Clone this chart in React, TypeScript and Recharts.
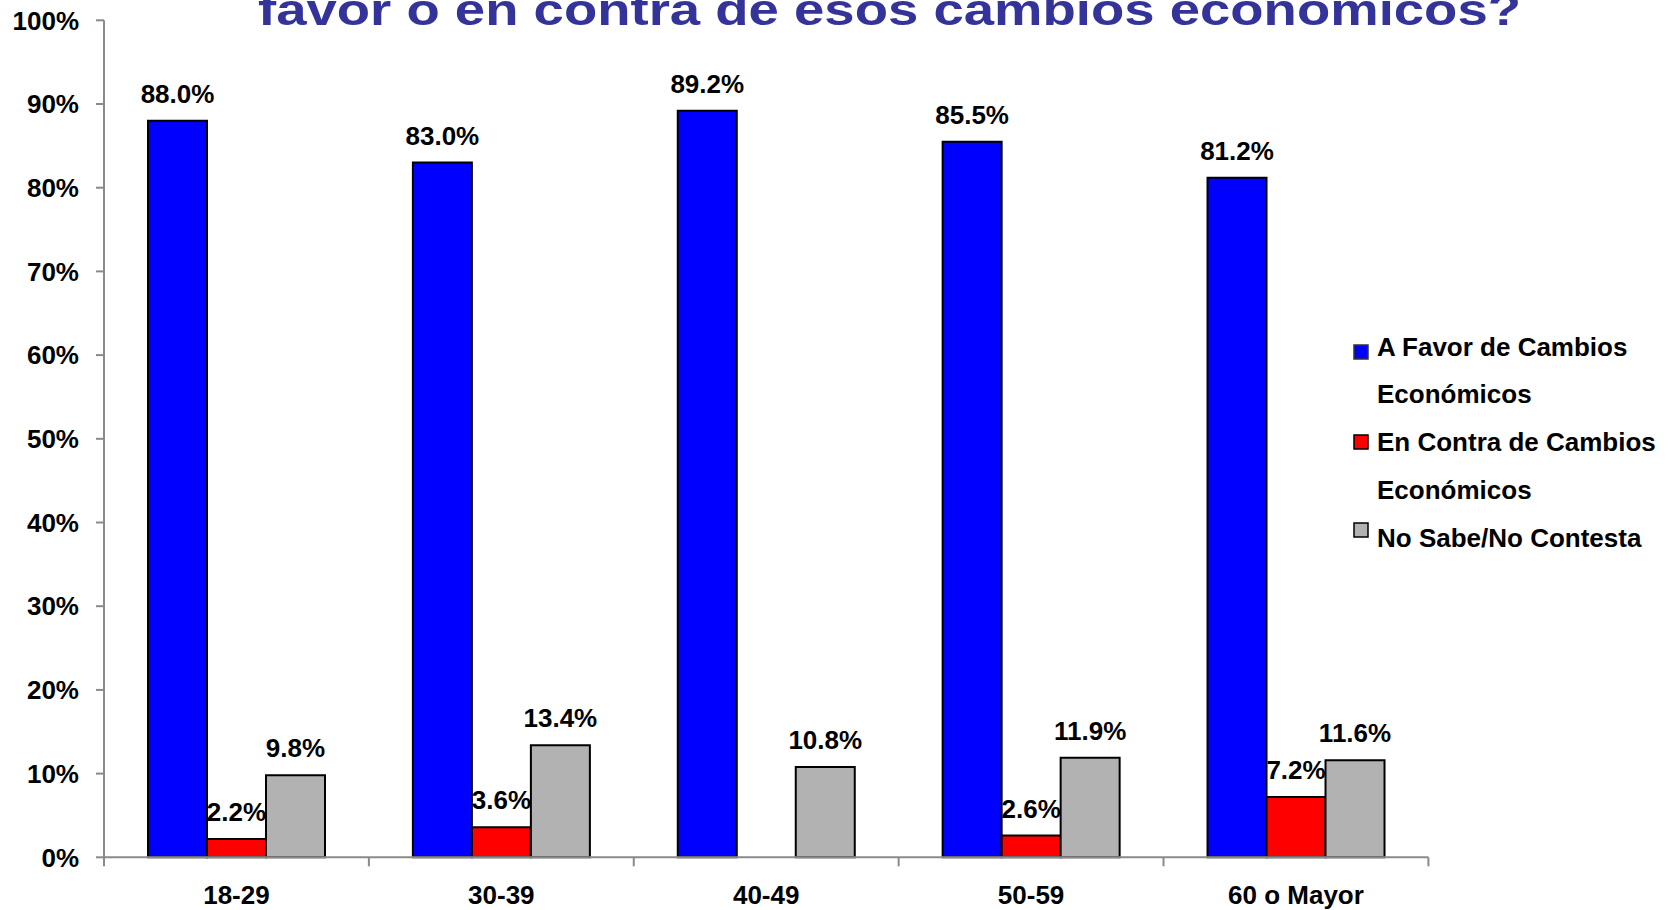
import React from 'react';
import { Bar, BarChart, LabelList, Legend, XAxis, YAxis } from 'recharts';

const categories = ['18-29', '30-39', '40-49', '50-59', '60 o Mayor'];
const aFavor = [88.0, 83.0, 89.2, 85.5, 81.2];
const enContra: (number | null)[] = [2.2, 3.6, null, 2.6, 7.2];
const noSabe = [9.8, 13.4, 10.8, 11.9, 11.6];
const yTicks = [0, 10, 20, 30, 40, 50, 60, 70, 80, 90, 100];

const series = [
  { key: 'favor', name: 'A Favor de Cambios Económicos', color: '#0000FF' },
  { key: 'contra', name: 'En Contra de Cambios Económicos', color: '#FF0000' },
  { key: 'nosabe', name: 'No Sabe/No Contesta', color: '#B2B2B2' },
];

const data = categories.map((name, i) => ({
  name,
  favor: aFavor[i],
  contra: enContra[i],
  nosabe: noSabe[i],
}));

const FONT = '"Liberation Sans", Arial, Helvetica, sans-serif';
const AXIS = '#8a8a8a';

const fmt = (v: any) => (v == null ? '' : `${Number(v).toFixed(1)}%`);

// category labels sit in the middle, tick marks on the band edges (Excel style)
const CategoryTick = (props: any) => {
  const { x, y, payload, index } = props;
  const half = payload && typeof payload.offset === 'number' && payload.offset > 0 ? payload.offset : 132.5;
  return (
    <g>
      <line x1={x - half} x2={x - half} y1={y} y2={y + 9} stroke={AXIS} strokeWidth={2} />
      {index === categories.length - 1 && (
        <line x1={x + half} x2={x + half} y1={y} y2={y + 9} stroke={AXIS} strokeWidth={2} />
      )}
      <text x={x} y={y + 47} textAnchor="middle" fontFamily={FONT} fontWeight="bold" fontSize={26} fill="#000">
        {payload.value}
      </text>
    </g>
  );
};

const renderLegend = () => {
  const ox = 1340;
  const oy = 320;
  const boxes = [
    { y: 345, color: '#0000FF', stroke: '#333' },
    { y: 435, color: '#FF0000', stroke: '#000' },
    { y: 523, color: '#B2B2B2', stroke: '#000' },
  ];
  const lines = [
    { y: 356, text: 'A Favor de Cambios' },
    { y: 403, text: 'Económicos' },
    { y: 451, text: 'En Contra de Cambios' },
    { y: 499, text: 'Económicos' },
    { y: 547, text: 'No Sabe/No Contesta' },
  ];
  return (
    <svg width={334} height={250} style={{ display: 'block' }}>
      {boxes.map((b, i) => (
        <rect key={i} x={1354 - ox} y={b.y - oy} width={14} height={14} fill={b.color} stroke={b.stroke} strokeWidth={1.5} />
      ))}
      {lines.map((l, i) => (
        <text key={i} x={1377 - ox} y={l.y - oy} fontFamily={FONT} fontWeight="bold" fontSize={26} fill="#000">
          {l.text}
        </text>
      ))}
    </svg>
  );
};

export default function App() {
  return (
    <div style={{ position: 'absolute', left: 0, top: 0, width: 1674, height: 910, background: '#fff' }}>
      <BarChart
        width={1674}
        height={910}
        data={data}
        margin={{ top: 20.3, right: 245.6, left: 0, bottom: 0 }}
        barGap={0}
        barSize={59}
      >
        <XAxis
          dataKey="name"
          height={52.7}
          stroke={AXIS}
          axisLine={{ stroke: AXIS, strokeWidth: 2 }}
          tickLine={false}
          tickSize={0}
          tickMargin={0}
          interval={0}
          tick={<CategoryTick />}
        />
        <YAxis
          width={104}
          domain={[0, 100]}
          ticks={yTicks}
          interval={0}
          tickFormatter={(v) => `${v}%`}
          axisLine={{ stroke: AXIS, strokeWidth: 2 }}
          tickLine={{ stroke: AXIS, strokeWidth: 2 }}
          tickSize={8}
          tickMargin={17}
          tick={{ fill: '#000', fontSize: 26, fontWeight: 'bold', fontFamily: FONT }}
        />
        <Legend
          layout="vertical"
          align="center"
          verticalAlign="middle"
          content={renderLegend}
          wrapperStyle={{ position: 'absolute', left: 1340, top: 320, width: 334, height: 250 }}
        />
        {series.map((s) => (
          <Bar
            key={s.key}
            dataKey={s.key}
            name={s.name}
            fill={s.color}
            stroke="#000"
            strokeWidth={2}
            isAnimationActive={false}
          >
            <LabelList
              dataKey={s.key}
              position="top"
              offset={18}
              formatter={fmt}
              style={{ fontFamily: FONT, fontWeight: 'bold', fontSize: 26, fill: '#000' }}
            />
          </Bar>
        ))}
      </BarChart>
      {/* the title is clipped by the top edge in the original too */}
      <svg
        width={1674}
        height={40}
        style={{ position: 'absolute', left: 0, top: 0, pointerEvents: 'none' }}
      >
        <text
          x={258}
          y={25}
          textLength={1263}
          lengthAdjust="spacingAndGlyphs"
          fontFamily={FONT}
          fontWeight="bold"
          fontSize={44}
          fill="#333399"
        >
          favor o en contra de esos cambios económicos?
        </text>
      </svg>
    </div>
  );
}
